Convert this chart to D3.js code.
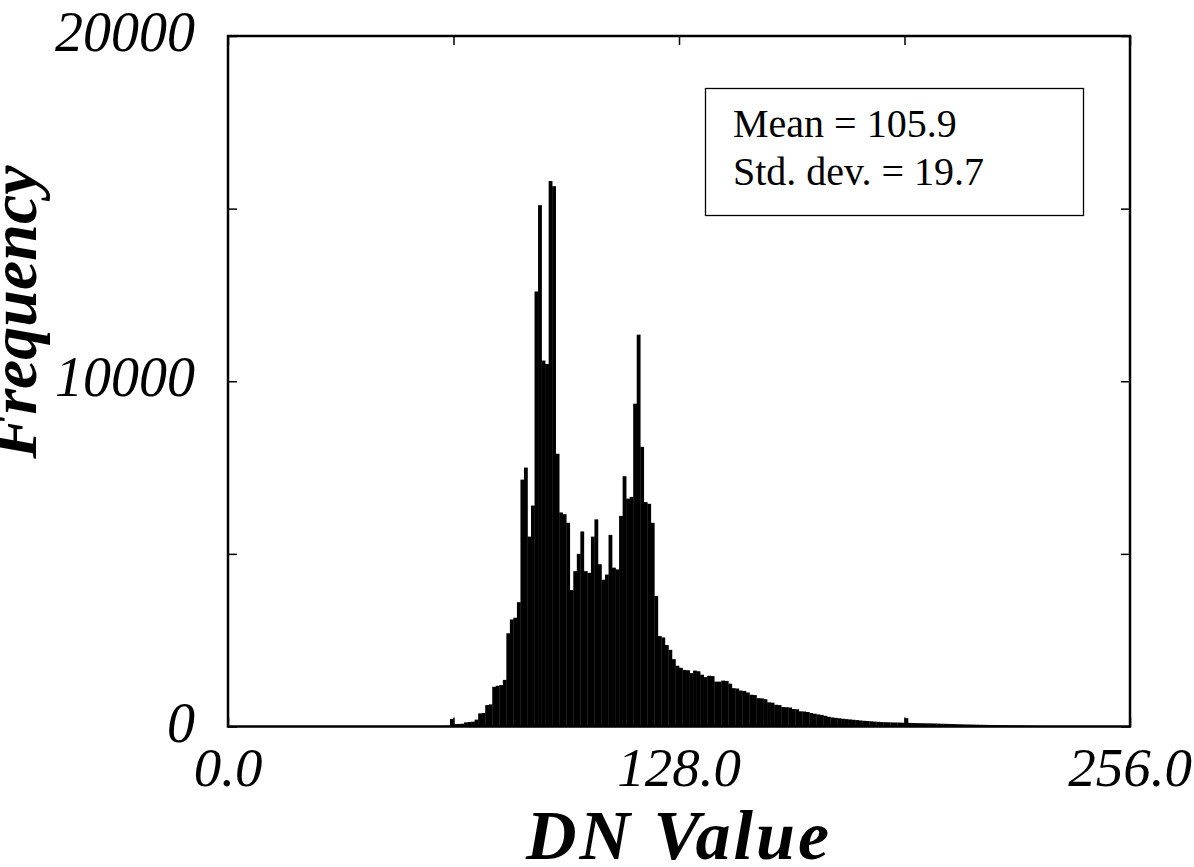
<!DOCTYPE html>
<html>
<head>
<meta charset="utf-8">
<script src="https://cdn.jsdelivr.net/npm/d3@7"></script>
<style>
  html, body { margin: 0; padding: 0; background: #fff; }
  svg { display: block; }
</style>
</head>
<body>
<svg id="chart" width="1194" height="867"></svg>
<script>
// ---- data ----
const binStart = 0;
const frequency = [
  // DN 0-49
  0,0,0,0,0,0,0,0,0,0, 0,0,0,0,0,0,0,0,0,0, 0,0,0,0,0,0,0,0,0,0,
  0,0,0,0,0,0,0,0,0,0, 0,0,0,0,0,0,0,0,0,0,
  // DN 50-59
  0,0,0,0,0,5,8,10,12,15,
  // DN 60-69
  18,20,25,220,70,75,80,120,130,140,
  // DN 70-79
  200,380,390,620,640,1150,1180,1200,1350,2700,
  // DN 80-89
  3100,3150,3600,7150,7500,5500,6400,12600,15100,10600,
  // DN 90-99
  10500,15800,15650,7900,6200,6150,5900,3950,4500,5000,
  // DN 100-109
  5650,4500,4450,5500,6000,4700,4250,4400,5550,4600,
  // DN 110-119
  4550,6100,7250,6600,6650,9350,11350,8100,6500,6450,
  // DN 120-129
  5900,3780,2620,2580,2360,2220,1950,1760,1700,1640,
  // DN 130-139
  1630,1545,1620,1600,1500,1430,1470,1460,1300,1300,
  // DN 140-149
  1330,1320,1240,1110,1100,1040,1030,985,920,910,
  // DN 150-159
  820,815,790,700,690,630,620,565,560,550,
  // DN 160-169
  505,500,440,435,420,390,370,350,335,310,
  // DN 170-179
  280,262,250,238,225,214,205,195,185,175,
  // DN 180-189
  165,158,150,142,135,128,124,121,118,116,
  // DN 190-199
  114,110,240,105,100,98,96,94,92,90,
  // DN 200-209
  88,84,80,77,74,71,68,65,62,60,
  // DN 210-219
  57,55,52,50,48,46,44,42,40,38,
  // DN 220-229
  36,34,32,30,28,26,24,22,20,18,
  // DN 230-239
  16,14,12,10,9,8,7,6,5,4,
  // DN 240-255
  3,2,2,2,1,1,1,1,1,0,0,0,0,0,0,0
];
const xTickValues = [0, 64, 128, 192, 256];
const xLabelValues = [0, 128, 256];
const xLabelTexts = ["0.0", "128.0", "256.0"];
const yTickValues = [0, 5000, 10000, 15000, 20000];
const yLabelValues = [0, 10000, 20000];
const yLabelTexts = ["0", "10000", "20000"];
const statsLines = ["Mean = 105.9", "Std. dev. = 19.7"];
const xTitle = "DN Value";
const yTitle = "Frequency";

// ---- layout ----
const svg = d3.select("#chart");
const L = 228, R = 1130, T = 36, B = 726.5;
const x = d3.scaleLinear().domain([0, 256]).range([L, R]);
const y = d3.scaleLinear().domain([0, 20000]).range([B, T]);
const serif = "'Liberation Serif', 'Times New Roman', Times, serif";

svg.append("rect").attr("width", 1194).attr("height", 867).attr("fill", "#fff");

// bars
const bins = frequency.map((v, i) => ({ dn: binStart + i, v }));
svg.append("g").selectAll("rect")
  .data(bins.filter(d => d.v > 0))
  .join("rect")
  .attr("x", d => x(d.dn))
  .attr("width", d => x(d.dn + 1) - x(d.dn) + 0.3)
  .attr("y", d => y(d.v))
  .attr("height", d => B - y(d.v))
  .attr("fill", "#000");

// axes with inward ticks
const tickLen = 9;
const axB = d3.axisBottom(x).tickValues(xTickValues).tickSize(-tickLen).tickFormat("");
const axT = d3.axisTop(x).tickValues(xTickValues).tickSize(-tickLen).tickFormat("");
const axL = d3.axisLeft(y).tickValues(yTickValues).tickSize(-tickLen).tickFormat("");
const axR = d3.axisRight(y).tickValues(yTickValues).tickSize(-tickLen).tickFormat("");
function styleAxis(g) {
  g.select(".domain").remove();
  g.selectAll(".tick line").attr("stroke", "#000").attr("stroke-width", 1.5);
}
svg.append("g").attr("transform", `translate(0,${B})`).call(axB).call(styleAxis);
svg.append("g").attr("transform", `translate(0,${T})`).call(axT).call(styleAxis);
svg.append("g").attr("transform", `translate(${L},0)`).call(axL).call(styleAxis);
svg.append("g").attr("transform", `translate(${R},0)`).call(axR).call(styleAxis);

// frame
svg.append("rect")
  .attr("x", L).attr("y", T).attr("width", R - L).attr("height", B - T)
  .attr("fill", "none").attr("stroke", "#000").attr("stroke-width", 2.5);

// tick labels
svg.append("g").selectAll("text")
  .data(xLabelValues)
  .join("text")
  .attr("x", d => x(d))
  .attr("y", 786)
  .attr("text-anchor", "middle")
  .attr("font-family", serif).attr("font-style", "italic").attr("font-size", 55)
  .text((d, i) => xLabelTexts[i]);

svg.append("g").selectAll("text")
  .data(yLabelValues)
  .join("text")
  .attr("x", 195)
  .attr("y", d => y(d) + 15)
  .attr("text-anchor", "end")
  .attr("font-family", serif).attr("font-style", "italic").attr("font-size", 56)
  .text((d, i) => yLabelTexts[i]);

// axis titles
svg.append("text")
  .attr("x", (L + R) / 2).attr("y", 859)
  .attr("text-anchor", "middle")
  .attr("font-family", serif).attr("font-style", "italic").attr("font-weight", "bold")
  .attr("font-size", 70).attr("letter-spacing", 3)
  .text(xTitle);

svg.append("text")
  .attr("transform", `translate(36,312) rotate(-90)`)
  .attr("text-anchor", "middle")
  .attr("font-family", serif).attr("font-style", "italic").attr("font-weight", "bold")
  .attr("font-size", 66)
  .text(yTitle);

// stats box
svg.append("rect")
  .attr("x", 705.5).attr("y", 88.5).attr("width", 378).attr("height", 127)
  .attr("fill", "#fff").attr("stroke", "#000").attr("stroke-width", 1.3);
svg.append("g").selectAll("text")
  .data(statsLines)
  .join("text")
  .attr("x", 733)
  .attr("y", (d, i) => 137 + i * 48)
  .attr("font-family", serif).attr("font-size", 40)
  .text(d => d);
</script>
</body>
</html>
